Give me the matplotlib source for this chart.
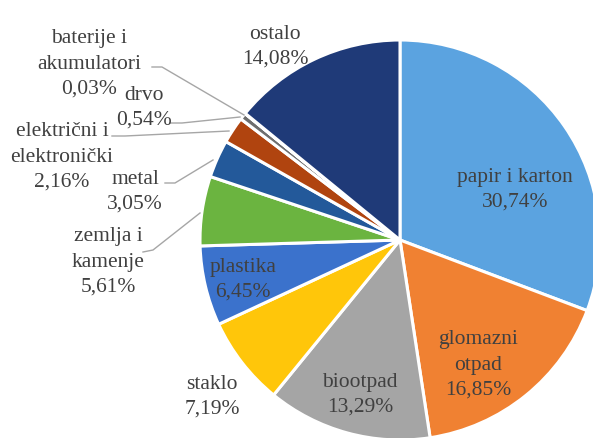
import matplotlib.pyplot as plt

# udio pojedinih vrsta otpada (%)
categories = ['papir i karton', 'glomazni otpad', 'biootpad', 'staklo', 'plastika',
              'zemlja i kamenje', 'metal', 'električni i elektronički', 'drvo',
              'baterije i akumulatori', 'ostalo']
values = [30.74, 16.85, 13.29, 7.19, 6.45, 5.61, 3.05, 2.16, 0.54, 0.03, 14.08]
label_texts = ['papir i karton', 'glomazni\notpad', 'biootpad', 'staklo', 'plastika',
               'zemlja i\nkamenje', 'metal', 'električni i\nelektronički', 'drvo',
               'baterije i\nakumulatori', 'ostalo']
colors = ['#5BA3E0', '#F08132', '#A5A5A5', '#FFC60A', '#3B72CC', '#6BB440',
          '#23599A', '#B0440F', '#6E6E6E', '#9A7A10', '#1F3A78']

W, H = 593, 438
fig = plt.figure(figsize=(W / 100, H / 100), dpi=100)
# pie centre at (400, 240) px, radius 200 px
ax = fig.add_axes([200 / W, (H - 440) / H, 400 / W, 400 / H])
ax.pie(values, colors=colors, startangle=90, counterclock=False, radius=1,
       wedgeprops=dict(edgecolor='white', linewidth=2.2))
ax.set_xlim(-1, 1)
ax.set_ylim(-1, 1)
ax.set_aspect('equal')
ax.axis('off')

def px(x, y):
    return ((x - 400) / 200, (240 - y) / 200)

# label positions in pixel coords of the picture
label_pos = [(515, 190), (478, 365), (360, 395), (212, 397), (243, 280),
             (108, 262), (135, 192), (62, 157), (144, 108), (89, 64), (275, 47)]

txt_color = '#404040'
line_h = 25  # px between text lines
for name, v, (x, y) in zip(label_texts, values, label_pos):
    n_name = name.count('\n') + 1
    n = n_name + 1
    first = y - (n - 1) / 2 * line_h
    name_y = first + (n_name - 1) / 2 * line_h
    pct_y = first + n_name * line_h
    pct = f'{v:.2f}'.replace('.', ',') + '%'
    ax.text(*px(x, name_y), name, ha='center', va='center', fontsize=15.5,
            family='Liberation Serif', color=txt_color, linespacing=1.45,
            clip_on=False)
    ax.text(*px(x, pct_y), pct, ha='center', va='center', fontsize=15.5,
            family='Liberation Serif', color=txt_color, clip_on=False)

# leader lines
leaders = [
    [(152, 67), (162, 67), (244, 115)],
    [(170, 123), (182, 123), (240, 117)],
    [(112, 136), (125, 136), (229, 131)],
    [(165, 183), (175, 183), (213, 160)],
    [(143, 252), (153, 250), (200, 213)],
]
for pts in leaders:
    xs, ys = zip(*[px(a, b) for a, b in pts])
    ax.plot(xs, ys, color='#A6A6A6', lw=1, clip_on=False)

fig.savefig('out.png', dpi=100)
